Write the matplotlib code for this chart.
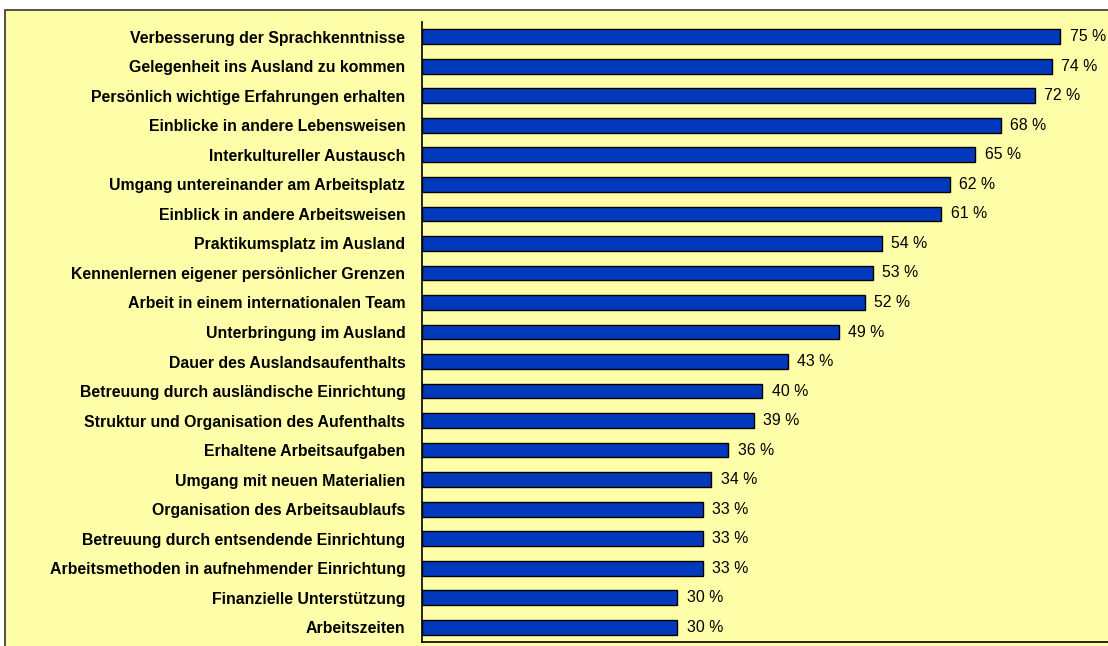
import matplotlib.pyplot as plt
from matplotlib.patches import Rectangle

labels = [
    "Verbesserung der Sprachkenntnisse",
    "Gelegenheit ins Ausland zu kommen",
    "Persönlich wichtige Erfahrungen erhalten",
    "Einblicke in andere Lebensweisen",
    "Interkultureller Austausch",
    "Umgang untereinander am Arbeitsplatz",
    "Einblick in andere Arbeitsweisen",
    "Praktikumsplatz im Ausland",
    "Kennenlernen eigener persönlicher Grenzen",
    "Arbeit in einem internationalen Team",
    "Unterbringung im Ausland",
    "Dauer des Auslandsaufenthalts",
    "Betreuung durch ausländische Einrichtung",
    "Struktur und Organisation des Aufenthalts",
    "Erhaltene Arbeitsaufgaben",
    "Umgang mit neuen Materialien",
    "Organisation des Arbeitsaublaufs",
    "Betreuung durch entsendende Einrichtung",
    "Arbeitsmethoden in aufnehmender Einrichtung",
    "Finanzielle Unterstützung",
    "Arbeitszeiten",
]
values = [75, 74, 72, 68, 65, 62, 61, 54, 53, 52, 49, 43, 40, 39, 36, 34, 33, 33, 33, 30, 30]

plt.rcParams['font.family'] = ['Liberation Sans', 'DejaVu Sans']

W, H = 1108, 646
fig = plt.figure(figsize=(W / 100, H / 100), dpi=100, facecolor='white')

# yellow chart area with border (behind the axes)
bg = Rectangle((5 / W, -0.01), 1.02, 1 - 10 / H + 0.01, transform=fig.transFigure,
               facecolor='#FFFFAA', edgecolor='#333333', linewidth=1.2, zorder=-10)
fig.patches.append(bg)

ax = fig.add_axes([422 / W, 4 / H, (W - 422) / W, 620 / H])
ax.set_facecolor('none')
ax.set_zorder(1)

y = list(range(len(values)))
ax.barh(y, values, height=0.5, color='#0039BB', edgecolor='black', linewidth=1)
for yi, v in zip(y, values):
    ax.text(v + 1.1, yi, f"{v} %", va='center', ha='left', fontsize=11.4)

ax.set_ylim(len(values) - 0.5, -0.5)
ax.set_xlim(0, 80.6)
ax.set_yticks(y)
ax.set_yticklabels(labels, fontsize=11.4, fontweight='bold')
ax.tick_params(axis='y', length=0, pad=12)
ax.set_xticks([])
ax.spines['right'].set_visible(False)
ax.spines['top'].set_visible(False)
ax.spines['left'].set_linewidth(1.2)
ax.spines['bottom'].set_linewidth(1.2)

fig.savefig('out.png', dpi=100, facecolor='white')
